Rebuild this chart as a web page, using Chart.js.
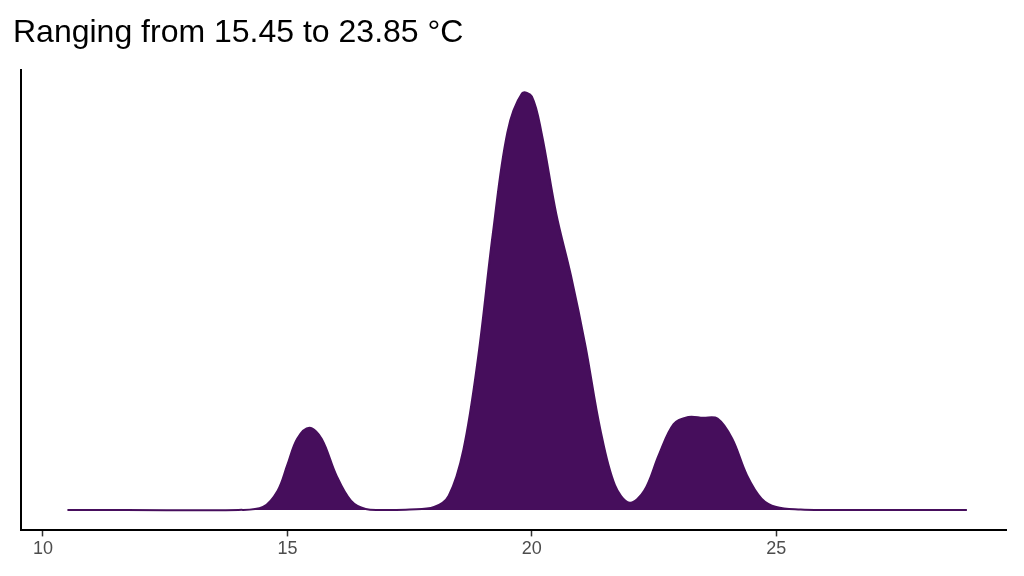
<!DOCTYPE html>
<html><head><meta charset="utf-8">
<script src="https://cdn.jsdelivr.net/npm/chart.js@4"></script>
<style>html,body{margin:0;background:#fff}#w{width:1024px;height:576px;position:relative}</style>
</head><body><div id="w"><canvas id="c"></canvas></div>
<script>
const titleText = "Ranging from 15.45 to 23.85 °C";
const temps = [10.5,14.0,14.5,14.8,15.0,15.2,15.45,15.7,16.0,16.3,16.6,17.0,17.5,18.0,18.3,18.6,18.9,19.2,19.5,19.8,20.0,20.2,20.5,20.8,21.1,21.4,21.7,22.0,22.3,22.6,22.9,23.2,23.5,23.8,24.1,24.4,24.7,25.0,25.5,26.0,28.9];
const density = [0,0,0.007,0.046,0.108,0.17,0.196,0.17,0.083,0.022,0.002,0,0.001,0.007,0.034,0.144,0.364,0.658,0.902,0.995,0.988,0.90,0.707,0.56,0.39,0.193,0.059,0.017,0.046,0.132,0.205,0.222,0.22,0.218,0.17,0.083,0.027,0.007,0.001,0,0];
const xTicks = [10,15,20,25];
new Chart(document.getElementById('c'),{
 type:'line',
 data:{datasets:[{data:temps.map((t,i)=>({x:t,y:density[i]})),fill:'origin',backgroundColor:'#460E5C',borderColor:'#460E5C',borderWidth:2,pointRadius:0,tension:0.35}]},
 options:{responsive:true,maintainAspectRatio:false,animation:false,
  layout:{padding:{left:13,right:18,top:0,bottom:14}},
  plugins:{legend:{display:false},tooltip:{enabled:false},
   title:{display:true,text:titleText,align:'start',color:'#000',font:{family:'Liberation Sans, Arial',size:32,weight:'normal'},padding:{top:14,bottom:18}}},
  scales:{
   x:{type:'linear',min:9.55,max:29.7,afterBuildTicks:s=>{s.ticks=xTicks.map(v=>({value:v}))},
    grid:{display:true,drawOnChartArea:false,drawTicks:true,tickLength:6,color:'rgba(0,0,0,0)',tickColor:'#333',tickWidth:1.5},border:{display:true,color:'#000',width:2},
    ticks:{color:'#4d4d4d',font:{family:'Liberation Sans, Arial',size:18},padding:2}},
   y:{min:-0.049,max:1.05,grid:{display:false},border:{display:true,color:'#000',width:2},ticks:{display:false}}
  }}
});
</script></body></html>
